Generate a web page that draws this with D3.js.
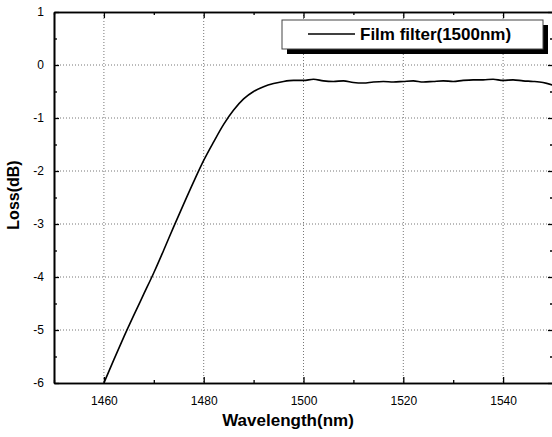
<!DOCTYPE html>
<html>
<head>
<meta charset="utf-8">
<script src="https://cdn.jsdelivr.net/npm/d3@7"></script>
<style>
  body { margin: 0; background: #fff; }
  text { font-family: "Liberation Sans", Arial, sans-serif; }
</style>
</head>
<body>
<div id="chart"></div>
<script>
var width = 552
var height = 437

var wavelength = [1460, 1462, 1464, 1466, 1468, 1470, 1472, 1474, 1476, 1478, 1480,
  1482, 1484, 1486, 1488, 1490, 1492, 1494, 1496, 1498, 1500, 1502, 1504, 1506, 1508,
  1510, 1512, 1514, 1516, 1518, 1520, 1522, 1524, 1526, 1528, 1530, 1532, 1534, 1536,
  1538, 1540, 1542, 1544, 1546, 1548, 1550]
var loss = [-6.0, -5.56, -5.13, -4.72, -4.32, -3.92, -3.49, -3.05, -2.62, -2.2, -1.8,
  -1.45, -1.12, -0.85, -0.64, -0.5, -0.41, -0.35, -0.31, -0.29, -0.29, -0.27, -0.3, -0.31,
  -0.3, -0.33, -0.34, -0.32, -0.31, -0.32, -0.31, -0.3, -0.32, -0.31, -0.3, -0.31, -0.29,
  -0.28, -0.28, -0.27, -0.29, -0.28, -0.3, -0.31, -0.33, -0.38]

var xTicks = [1460, 1480, 1500, 1520, 1540]
var xMinor = [1450, 1470, 1490, 1510, 1530, 1550]
var yTicks = [1, 0, -1, -2, -3, -4, -5, -6]
var yMinor = [0.5, -0.5, -1.5, -2.5, -3.5, -4.5, -5.5]
var seriesName = 'Film filter(1500nm)'

var plotL = 54, plotR = 553, plotT = 12, plotB = 383

var x = d3.scaleLinear().domain([1450, 1550]).range([plotL, plotR])
var y = d3.scaleLinear().domain([-6, 1]).range([plotB, plotT])

var plainNum = function(d){return String(d)}

var svg = d3.select('#chart').append('svg')
  .attr('width', width)
  .attr('height', height)

// dotted grid
svg.selectAll('.vgrid').data(xTicks).enter().append('line')
  .attr('x1', function(d){return x(d)}).attr('x2', function(d){return x(d)})
  .attr('y1', plotT).attr('y2', plotB)
  .attr('stroke', '#777').attr('stroke-width', 1).attr('stroke-dasharray', '1,2')
svg.selectAll('.hgrid').data(yTicks.filter(function(d){return d > -6 && d < 1})).enter().append('line')
  .attr('y1', function(d){return y(d)}).attr('y2', function(d){return y(d)})
  .attr('x1', plotL).attr('x2', plotR)
  .attr('stroke', '#777').attr('stroke-width', 1).attr('stroke-dasharray', '1,2')

// axes with inward ticks
function styleAxis(g) {
  g.select('.domain').attr('stroke', '#000').attr('stroke-width', 1.6)
  g.selectAll('.tick line').attr('stroke', '#000').attr('stroke-width', 1.3)
  g.selectAll('text').attr('font-size', '12px').attr('fill', '#000')
}

var xAxis = svg.append('g').attr('transform', 'translate(0,' + plotB + ')')
  .call(d3.axisBottom(x).tickValues(xTicks).tickSize(-6).tickSizeOuter(0).tickPadding(13).tickFormat(plainNum))
styleAxis(xAxis)
var xAxisMinor = svg.append('g').attr('transform', 'translate(0,' + plotB + ')')
  .call(d3.axisBottom(x).tickValues(xMinor).tickSize(-3).tickSizeOuter(0).tickFormat(''))
styleAxis(xAxisMinor)

var xTop = svg.append('g').attr('transform', 'translate(0,' + plotT + ')')
  .call(d3.axisTop(x).tickValues(xTicks).tickSize(-6).tickSizeOuter(0).tickFormat(''))
styleAxis(xTop)
var xTopMinor = svg.append('g').attr('transform', 'translate(0,' + plotT + ')')
  .call(d3.axisTop(x).tickValues(xMinor).tickSize(-3).tickSizeOuter(0).tickFormat(''))
styleAxis(xTopMinor)

var yAxis = svg.append('g').attr('transform', 'translate(' + plotL + ',0)')
  .call(d3.axisLeft(y).tickValues(yTicks).tickSize(-5).tickSizeOuter(0).tickPadding(10).tickFormat(plainNum))
styleAxis(yAxis)
var yAxisMinor = svg.append('g').attr('transform', 'translate(' + plotL + ',0)')
  .call(d3.axisLeft(y).tickValues(yMinor).tickSize(-3).tickSizeOuter(0).tickFormat(''))
styleAxis(yAxisMinor)

var yRight = svg.append('g').attr('transform', 'translate(' + plotR + ',0)')
  .call(d3.axisRight(y).tickValues(yTicks).tickSize(-5).tickSizeOuter(0).tickFormat(''))
styleAxis(yRight)
var yRightMinor = svg.append('g').attr('transform', 'translate(' + plotR + ',0)')
  .call(d3.axisRight(y).tickValues(yMinor).tickSize(-3).tickSizeOuter(0).tickFormat(''))
styleAxis(yRightMinor)

// curve
var pts = wavelength.map(function(w, i){return [w, loss[i]]})
svg.append('path').datum(pts)
  .attr('fill', 'none').attr('stroke', '#000').attr('stroke-width', 1.6)
  .attr('stroke-linejoin', 'round')
  .attr('d', d3.line().x(function(d){return x(d[0])}).y(function(d){return y(d[1])}).curve(d3.curveMonotoneX))

// legend with drop shadow
var lg = svg.append('g')
lg.append('rect').attr('x', 287).attr('y', 25).attr('width', 261).attr('height', 29).attr('fill', '#000')
lg.append('rect').attr('x', 282).attr('y', 20).attr('width', 261).attr('height', 29)
  .attr('fill', '#fff').attr('stroke', '#444').attr('stroke-width', 1)
lg.append('line').attr('x1', 308).attr('x2', 355).attr('y1', 34).attr('y2', 34)
  .attr('stroke', '#000').attr('stroke-width', 1.6)
lg.append('text').attr('x', 360).attr('y', 40)
  .attr('font-size', '17px').attr('font-weight', 'bold').text(seriesName)

// axis titles
svg.append('text').attr('x', 288).attr('y', 426).attr('text-anchor', 'middle')
  .attr('font-size', '17px').attr('font-weight', 'bold').text('Wavelength(nm)')
svg.append('text').attr('transform', 'translate(19,195) rotate(-90)').attr('text-anchor', 'middle')
  .attr('font-size', '16px').attr('font-weight', 'bold').text('Loss(dB)')
</script>
</body>
</html>
